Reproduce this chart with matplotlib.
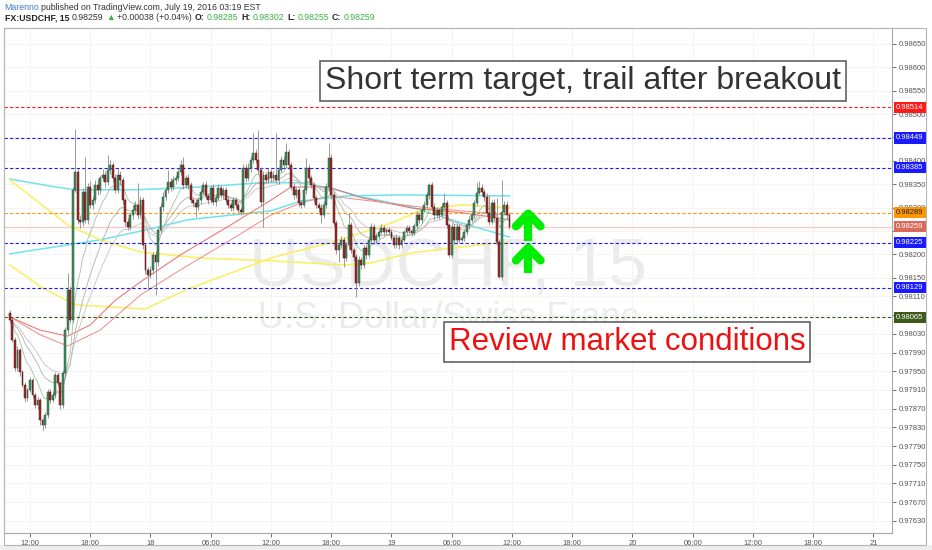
import numpy as np
import pandas as pd
import matplotlib
matplotlib.use("Agg")
import matplotlib.pyplot as plt
from matplotlib.patches import Rectangle
import matplotlib.transforms as mtransforms

# prices are kept in points (1e-5), USDCHF 15 min bars
first_open = 98075
close_pts = [
    98060, 98017, 97957, 97995, 97948, 97921, 97893, 97910, 97931, 97899,
    97878, 97889, 97846, 97835, 97856, 97906, 97889, 97899, 97942, 97925,
    97878, 97946, 98038, 98124, 98060, 98338, 98376, 98274, 98269, 98333,
    98274, 98344, 98306, 98316, 98348, 98338, 98363, 98370, 98355, 98380,
    98391, 98363, 98338, 98370, 98359, 98316, 98269, 98259, 98284, 98295,
    98306, 98284, 98316, 98220, 98167, 98156, 98167, 98199, 98184, 98252,
    98301, 98323, 98338, 98355, 98344, 98359, 98363, 98376, 98391, 98348,
    98363, 98348, 98316, 98310, 98301, 98316, 98333, 98348, 98325, 98316,
    98342, 98312, 98321, 98342, 98327, 98338, 98316, 98306, 98299, 98316,
    98306, 98295, 98291, 98385, 98363, 98385, 98402, 98417, 98402, 98380,
    98312, 98370, 98359, 98376, 98363, 98370, 98359, 98380, 98402, 98391,
    98419, 98391, 98344, 98327, 98338, 98310, 98306, 98338, 98385, 98363,
    98348, 98321, 98306, 98299, 98284, 98306, 98344, 98406, 98327, 98267,
    98209, 98220, 98231, 98192, 98220, 98263, 98209, 98194, 98139, 98188,
    98177, 98214, 98199, 98231, 98259, 98231, 98239, 98248, 98256, 98248,
    98252, 98248, 98235, 98220, 98235, 98220, 98231, 98248, 98256, 98250,
    98246, 98261, 98284, 98274, 98295, 98306, 98327, 98348, 98301, 98284,
    98295, 98284, 98301, 98310, 98263, 98199, 98259, 98231, 98259, 98231,
    98235, 98248, 98263, 98274, 98284, 98310, 98331, 98342, 98333, 98323,
    98289, 98269, 98310, 98278, 98226, 98152, 98291, 98306, 98284, 98259,
]
upper_wick = [
    5, 4, 6, 8, 5, 4, 6, 5, 7, 4,
    5, 6, 4, 5, 7, 6, 5, 8, 6, 5,
    4, 7, 6, 36, 8, 5, 92, 6, 10, 8,
    75, 9, 12, 8, 10, 14, 6, 12, 9, 32,
    10, 7, 9, 12, 8, 6, 5, 9, 7, 10,
    8, 47, 9, 7, 5, 6, 8, 7, 9, 6,
    8, 10, 7, 25, 8, 9, 6, 8, 11, 17,
    7, 9, 6, 5, 8, 7, 9, 6, 8, 7,
    6, 9, 7, 8, 6, 7, 5, 8, 6, 7,
    6, 5, 7, 9, 8, 10, 8, 43, 9, 64,
    6, 8, 7, 9, 6, 8, 90, 7, 9, 8,
    19, 7, 6, 8, 5, 7, 6, 9, 21, 8,
    6, 7, 5, 6, 8, 7, 9, 32, 8, 6,
    7, 5, 8, 6, 7, 26, 6, 5, 7, 8,
    6, 9, 5, 7, 8, 6, 7, 5, 8, 6,
    5, 7, 6, 5, 8, 6, 7, 5, 6, 7,
    5, 6, 8, 7, 6, 9, 7, 5, 6, 8,
    7, 5, 9, 21, 6, 5, 8, 6, 7, 5,
    6, 7, 5, 8, 6, 7, 24, 15, 8, 6,
    9, 38, 7, 8, 43, 6, 68, 9, 7, 6,
]
lower_wick = [
    6, 5, 7, 6, 8, 5, 9, 6, 5, 7,
    6, 8, 11, 11, 7, 6, 8, 5, 7, 6,
    8, 6, 10, 9, 6, 7, 5, 9, 12, 8,
    7, 10, 8, 9, 6, 12, 8, 7, 10, 6,
    8, 9, 7, 6, 10, 8, 9, 7, 6, 8,
    7, 9, 6, 8, 10, 32, 7, 9, 71, 8,
    6, 8, 7, 6, 9, 7, 8, 6, 7, 9,
    6, 8, 7, 9, 21, 6, 8, 7, 6, 9,
    7, 6, 8, 5, 7, 9, 6, 8, 7, 6,
    8, 6, 7, 5, 9, 6, 8, 7, 6, 9,
    8, 53, 7, 6, 8, 7, 6, 9, 5, 7,
    6, 8, 7, 9, 6, 8, 7, 5, 8, 6,
    7, 9, 6, 8, 17, 7, 6, 8, 9, 7,
    8, 25, 6, 19, 7, 8, 6, 9, 30, 7,
    8, 6, 9, 7, 5, 8, 6, 7, 5, 8,
    6, 7, 5, 6, 7, 8, 6, 5, 7, 6,
    7, 5, 6, 8, 7, 5, 6, 8, 7, 10,
    6, 8, 5, 7, 6, 5, 7, 8, 6, 7,
    5, 7, 6, 8, 5, 7, 6, 5, 7, 8,
    6, 7, 5, 8, 6, 3, 7, 6, 8, 5,
]

# moving averages: (bar index, points)
cyan_a_bar = [0, 16, 26, 50, 76, 100, 116, 127, 140, 160, 180, 199]
cyan_a_pts = [98361, 98346, 98338, 98338, 98344, 98353, 98353, 98342, 98323, 98301, 98267, 98237]
cyan_b_bar = [0, 36, 54, 71, 104, 116, 134, 156, 199]
cyan_b_pts = [98201, 98231, 98252, 98274, 98293, 98314, 98325, 98327, 98325]
yellow_a_bar = [0, 23, 36, 52, 76, 104, 134, 144, 160, 180, 193, 199]
yellow_a_pts = [98359, 98263, 98231, 98205, 98192, 98186, 98177, 98182, 98203, 98216, 98224, 98226]
yellow_b_bar = [0, 13, 26, 54, 70, 104, 113, 127, 140, 153, 164, 180, 199]
yellow_b_pts = [98177, 98128, 98092, 98083, 98124, 98192, 98205, 98224, 98246, 98269, 98295, 98306, 98299]
red_a_bar = [0, 12, 23, 32, 42, 52, 68, 88, 104, 112, 127, 140, 160, 180, 199]
red_a_pts = [98066, 98038, 98025, 98049, 98102, 98141, 98199, 98263, 98316, 98344, 98344, 98321, 98299, 98289, 98274]
red_b_bar = [0, 12, 23, 36, 52, 68, 88, 104, 116, 127, 147, 167, 199]
red_b_pts = [98066, 98028, 98004, 98038, 98113, 98167, 98231, 98284, 98310, 98325, 98312, 98299, 98284]

# horizontal levels drawn on the chart
level_prices = [0.98514, 0.98449, 0.98385, 0.98289, 0.98225, 0.98129, 0.98065]
level_colors = ["#ff1a1a", "#1a1aff", "#1a1aff", "#ff9800", "#1a1aff", "#1a1aff", "#3d5a1a"]
last_price = 0.98259

y_ticks = [0.98650, 0.98600, 0.98550, 0.98500, 0.98450, 0.98400, 0.98350, 0.98300,
           0.98250, 0.98200, 0.98150, 0.98110, 0.98070, 0.98030, 0.97990, 0.97950,
           0.97910, 0.97870, 0.97830, 0.97790, 0.97750, 0.97710, 0.97670, 0.97630]
# tick labels hidden under the level boxes
hidden_ticks = [0.98450, 0.98250, 0.98070]
x_tick_labels = ["12:00", "18:00", "18", "06:00", "12:00", "18:00", "19", "06:00",
                 "12:00", "18:00", "20", "06:00", "12:00", "18:00", "21"]
x_tick_bars = [8 + 24 * k for k in range(len(x_tick_labels))]

W, H = 932, 550
FONT = ["Liberation Sans", "DejaVu Sans"]

closes = np.array(close_pts) / 1e5
opens = np.concatenate([[first_open / 1e5], closes[:-1]])
highs = np.maximum(opens, closes) + np.array(upper_wick) / 1e5
lows = np.minimum(opens, closes) - np.array(lower_wick) / 1e5
bars = np.arange(len(closes))

fig = plt.figure(figsize=(W / 100, H / 100), dpi=100, facecolor="white")
fig.patches.append(Rectangle((0, 0), 1, 5 / H, transform=fig.transFigure,
                             facecolor="#eeeeee", edgecolor="none", zorder=0))
fig.patches.append(Rectangle((4 / W, 5 / H), 922 / W, 517 / H, transform=fig.transFigure,
                             facecolor="none", edgecolor="#b5b5b5", lw=0.8, zorder=1))

ax = fig.add_axes([4 / W, 17 / H, 888 / W, 505 / H])
ax.set_xlim(-2.36, 351.4)
ax.set_ylim(0.97604, 0.98684)
ax.set_facecolor("white")

for s in ax.spines.values():
    s.set_color("#a8a8a8")
    s.set_linewidth(0.8)

ax.yaxis.tick_right()
ax.set_yticks(y_ticks)
ax.set_yticklabels(["" if v in hidden_ticks else f"{v:.5f}" for v in y_ticks])
ax.set_xticks(x_tick_bars)
ax.set_xticklabels(x_tick_labels)
ax.tick_params(axis="both", labelsize=5.5, colors="#555555", length=3, width=0.6, pad=2)
for lab in ax.get_xticklabels() + ax.get_yticklabels():
    lab.set_family(FONT)
ax.grid(True, color="#f4f4f4", lw=0.8)
ax.set_axisbelow(True)

# watermark
ax.text(0.5, 0.525, "USDCHF, 15", transform=ax.transAxes, ha="center", va="center",
        fontsize=50, color="#ebebeb", family=FONT, zorder=0.5)
ax.text(0.5, 0.424, "U.S. Dollar/Swiss Franc", transform=ax.transAxes, ha="center",
        va="center", fontsize=26, color="#ebebeb", family=FONT, zorder=0.5)

# last price line
ax.axhline(last_price, color="#f5c9c9", lw=1.0, zorder=1)

# moving averages
for b, p, c, lw in [(cyan_a_bar, cyan_a_pts, "#6fe3ee", 1.1),
                    (cyan_b_bar, cyan_b_pts, "#6fe3ee", 1.1),
                    (yellow_a_bar, yellow_a_pts, "#fbef6a", 1.2),
                    (yellow_b_bar, yellow_b_pts, "#fbef6a", 1.2),
                    (red_a_bar, red_a_pts, "#ec6a6a", 0.7),
                    (red_b_bar, red_b_pts, "#f08a8a", 0.7)]:
    ax.plot(b, np.array(p) / 1e5, color=c, lw=lw, zorder=2)

cs = pd.Series(closes)
ax.plot(bars, cs.ewm(span=10, adjust=False).mean(), color="#9fc49f", lw=0.6, zorder=2)
ax.plot(bars, cs.ewm(span=20, adjust=False).mean(), color="#b0b0b0", lw=0.6, zorder=2)
ax.plot(bars, cs.ewm(span=30, adjust=False).mean(), color="#c4c4c4", lw=0.6, zorder=2)

# level lines
for p, c in zip(level_prices, level_colors):
    ax.axhline(p, color=c, lw=0.8, ls=(0, (3, 2)), zorder=2.2)

# candles
up = closes >= opens
ax.vlines(bars, lows, highs, color="#8a8a8a", lw=0.6, zorder=3)
body_lo = np.minimum(opens, closes)
body_h = np.maximum(np.abs(closes - opens), 0.000015)
ax.bar(bars[up], body_h[up], bottom=body_lo[up], width=0.75, color="#3f8f5f",
       edgecolor="#2b4a35", lw=0.35, zorder=3.2)
ax.bar(bars[~up], body_h[~up], bottom=body_lo[~up], width=0.75, color="#a32b2b",
       edgecolor="#4a1515", lw=0.35, zorder=3.2)

# green arrows
arrow_x = 206.5
for top, bot in [(0.98287, 0.98229), (0.98214, 0.98160)]:
    ax.plot([arrow_x, arrow_x], [bot, top - 0.00003], color="#00ee00", lw=6,
            solid_capstyle="butt", zorder=4)
    ax.plot([arrow_x - 4.9, arrow_x, arrow_x + 4.9], [top - 0.00027, top, top - 0.00027],
            color="#00ee00", lw=6, solid_capstyle="round", solid_joinstyle="round", zorder=4)

# annotation boxes
ax.text(0.652, 0.895, "Short term target, trail after breakout", transform=ax.transAxes,
        ha="center", va="center", fontsize=23, color="#333333", family=FONT, zorder=5,
        bbox=dict(boxstyle="square,pad=0.16", facecolor="white", edgecolor="#555555", lw=1.1))
ax.text(0.7016, 0.378, "Review market conditions", transform=ax.transAxes,
        ha="center", va="center", fontsize=22.5, color="#ee1111", family=FONT, zorder=5,
        bbox=dict(boxstyle="square,pad=0.16", facecolor="white", edgecolor="#555555", lw=1.1))

# price labels on the right axis
trans = mtransforms.blended_transform_factory(ax.transAxes, ax.transData)
for p, c in zip(level_prices + [last_price], level_colors + ["#d96a5a"]):
    tc = "#222222" if c == "#ff9800" else "white"
    ax.text(1.0045, p, f"{p:.5f}", transform=trans, ha="left", va="center", fontsize=5.5,
            color=tc, family=FONT, clip_on=False, zorder=6,
            bbox=dict(boxstyle="square,pad=0.28", facecolor=c, edgecolor="none"))

# header
renderer = fig.canvas.get_renderer()


def write_row(parts, x_px, y_px):
    x = x_px
    for s, color, weight in parts:
        t = fig.text(x / W, 1 - y_px / H, s, color=color, fontsize=6.3, fontweight=weight,
                     ha="left", va="center", family=FONT)
        x = t.get_window_extent(renderer).x1 + 2.5


write_row([("Marenno", "#3b7dc4", "normal"),
           ("published on TradingView.com, July 19, 2016 03:19 EST", "#333333", "normal")], 4, 7)
green = "#3cb043"
write_row([("FX:USDCHF, 15", "#222222", "bold"),
           ("0.98259", "#333333", "normal"),
           ("\u25b2", green, "normal"),
           ("+0.00038 (+0.04%)", "#333333", "normal"),
           ("O:", "#222222", "bold"), ("0.98285", green, "normal"),
           ("H:", "#222222", "bold"), ("0.98302", green, "normal"),
           ("L:", "#222222", "bold"), ("0.98255", green, "normal"),
           ("C:", "#222222", "bold"), ("0.98259", green, "normal")], 5, 18)

fig.savefig("out.png", dpi=100, facecolor=fig.get_facecolor())
